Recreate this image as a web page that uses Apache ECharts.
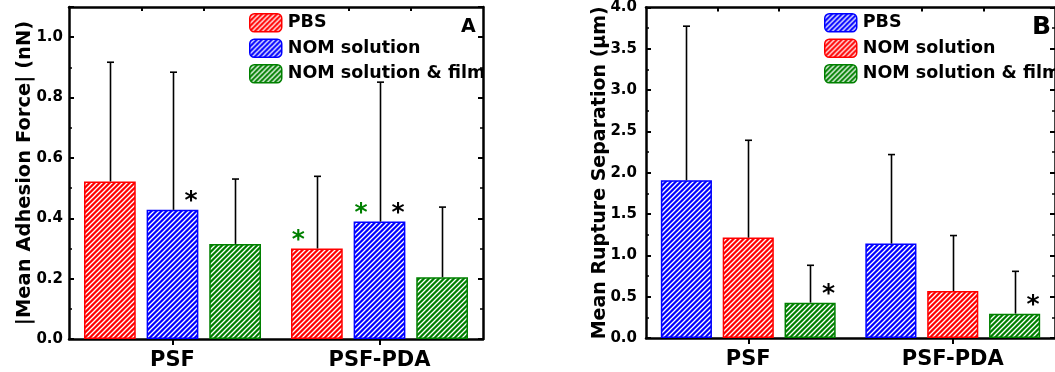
<!DOCTYPE html>
<html>
<head>
<meta charset="utf-8">
<script src="https://cdn.jsdelivr.net/npm/echarts@6/dist/echarts.min.js"></script>
<style>
  html, body { margin: 0; padding: 0; background: #fff; }
  #chart { width: 1055px; height: 372px; }
</style>
</head>
<body>
<div id="chart"></div>
<script>
// Categories shared by both panels
const categories = ['PSF', 'PSF-PDA'];
const groupNames = ['PBS', 'NOM solution', 'NOM solution & film'];

// Panel A: |mean adhesion force| (nN) and upper error
const adhPBS = [0.522, 0.300];
const adhNOM = [0.428, 0.389];
const adhFilm = [0.315, 0.205];
const adhPBSErr = [0.395, 0.239];
const adhNOMErr = [0.456, 0.462];
const adhFilmErr = [0.215, 0.232];

// Panel B: mean rupture separation (µm) and upper error
const rupPBS = [1.909, 1.143];
const rupNOM = [1.215, 0.569];
const rupFilm = [0.428, 0.295];
const rupPBSErr = [1.865, 1.077];
const rupNOMErr = [1.178, 0.671];
const rupFilmErr = [0.452, 0.512];

// Significance markers: [category index, bar index within the group]
const adhBlackStars = [[0, 1], [1, 1]];
const adhGreenStars = [[1, 0], [1, 1]];
const rupBlackStars = [[0, 2], [1, 2]];
const rupGreenStars = [];

// Small tick marks along the top frame
const topTicks = [0.85, 1.15, 1.85, 2.15];

const FONT = 'DejaVu Sans';
const RED = '#ff0000', BLUE = '#0000ff', GREEN = '#008000';

// Diagonal white hatch on a solid fill
function hatch(color) {
  const n = 5;
  const c = document.createElement('canvas');
  c.width = n; c.height = n;
  const g = c.getContext('2d');
  g.fillStyle = color;
  g.fillRect(0, 0, n, n);
  g.strokeStyle = '#ffffff';
  g.lineWidth = 1.3;
  g.beginPath();
  g.moveTo(-1, n + 1); g.lineTo(n + 1, -1);
  g.moveTo(-1, 1); g.lineTo(1, -1);
  g.moveTo(n - 1, n + 1); g.lineTo(n + 1, n - 1);
  g.stroke();
  return { image: c, repeat: 'repeat' };
}

const BAR_W = 0.25;   // fraction of category width
const BAR_GAP = 0.21; // fraction of bar width

function barOffset(api, slot) {
  const catW = api.size([1, 0])[0];
  const bw = catW * BAR_W;
  return (slot - 1) * bw * (1 + BAR_GAP);
}

function barSeries(name, values, color, gi) {
  return {
    type: 'bar', name, data: values,
    xAxisIndex: gi * 2, yAxisIndex: gi * 2,
    barWidth: (BAR_W * 100) + '%', barGap: (BAR_GAP * 100) + '%',
    itemStyle: { color: hatch(color), borderColor: color, borderWidth: 1.5 },
    emphasis: { disabled: true },
    z: 2
  };
}

function errorSeries(means, errs, gi) {
  const data = [];
  means.forEach((m, slot) => m.forEach((v, cat) => data.push([cat, v, errs[slot][cat], slot])));
  return {
    type: 'custom', xAxisIndex: gi * 2, yAxisIndex: gi * 2,
    encode: { x: 0, y: 1 }, data, z: 3, silent: true,
    renderItem(params, api) {
      const cat = api.value(0), v = api.value(1), e = api.value(2), slot = api.value(3);
      const base = api.coord([cat, v]);
      const top = api.coord([cat, v + e]);
      const x = Math.round(base[0] + barOffset(api, slot)) + 0.5;
      const style = { stroke: '#000', lineWidth: 1.6 };
      return {
        type: 'group', children: [
          { type: 'line', shape: { x1: x, y1: base[1], x2: x, y2: top[1] }, style },
          { type: 'line', shape: { x1: x - 3.5, y1: top[1], x2: x + 3.5, y2: top[1] }, style }
        ]
      };
    }
  };
}

function starSeries(marks, means, color, side, gi) {
  const data = marks.map(([cat, slot]) => [cat, means[slot][cat], slot]);
  return {
    type: 'custom', xAxisIndex: gi * 2, yAxisIndex: gi * 2,
    encode: { x: 0, y: 1 }, data, z: 4, silent: true,
    renderItem(params, api) {
      const cat = api.value(0), v = api.value(1), slot = api.value(2);
      const p = api.coord([cat, v]);
      return {
        type: 'text',
        style: {
          text: '*', x: p[0] + barOffset(api, slot) + side * 18.5, y: p[1] - 8,
          fill: color, font: 'bold 25px "' + FONT + '"',
          align: 'center', verticalAlign: 'middle'
        }
      };
    }
  };
}

function yAxes(gi, max, interval, name, nameGap) {
  const common = {
    type: 'value', gridIndex: gi, min: 0, max, interval,
    axisLine: { show: true, onZero: false, lineStyle: { color: '#000', width: 2.5 } },
    axisTick: { show: true, inside: true, length: 5, lineStyle: { color: '#000', width: 2 } },
    minorTick: { show: true, splitNumber: 2, length: 3, lineStyle: { color: '#000', width: 1.5 } },
    splitLine: { show: false }
  };
  return [
    Object.assign({}, common, {
      position: 'left',
      axisLabel: {
        formatter: v => v.toFixed(1), showMaxLabel: Math.abs(max / interval - Math.round(max / interval)) < 1e-9,
        color: '#000', fontFamily: FONT, fontWeight: 'bold', fontSize: 15, margin: gi === 0 ? 6 : 9
      },
      name, nameLocation: 'middle', nameGap, nameMoveOverlap: false,
      nameTextStyle: { color: '#000', fontFamily: FONT, fontWeight: 'bold', fontSize: gi === 0 ? 19.5 : 19 }
    }),
    Object.assign({}, common, { position: 'right', axisLabel: { show: false } })
  ];
}

function xAxes(gi) {
  return [
    {
      type: 'category', gridIndex: gi, data: categories, position: 'bottom',
      axisLine: { show: true, onZero: false, lineStyle: { color: '#000', width: 2.5 } },
      axisTick: { show: true, alignWithLabel: true, length: 6, lineStyle: { color: '#000', width: 2 } },
      axisLabel: { color: '#000', fontFamily: FONT, fontWeight: 'bold', fontSize: 21, margin: 11 }
    },
    {
      type: 'value', gridIndex: gi, position: 'top', min: 0.5, max: 2.5,
      axisLine: { show: true, onZero: false, lineStyle: { color: '#000', width: 2.5 } },
      axisTick: { show: true, inside: true, length: 4, customValues: topTicks, lineStyle: { color: '#000', width: 2 } },
      axisLabel: { show: false }, splitLine: { show: false }
    }
  ];
}

function legendFor(left, names, colors) {
  return {
    orient: 'vertical', left, top: 8, itemWidth: 32, itemHeight: 18, itemGap: 6,
    icon: 'roundRect', selectedMode: false,
    textStyle: { color: '#000', fontFamily: FONT, fontWeight: 'bold', fontSize: 17.5, padding: [0, 0, 0, 1] },
    data: names.map((n, i) => ({
      name: n,
      itemStyle: { color: hatch(colors[i]), borderColor: colors[i], borderWidth: 1.5 }
    }))
  };
}

const adhMeans = [adhPBS, adhNOM, adhFilm];
const adhErrs = [adhPBSErr, adhNOMErr, adhFilmErr];
const rupMeans = [rupPBS, rupNOM, rupFilm];
const rupErrs = [rupPBSErr, rupNOMErr, rupFilmErr];
const colorsA = [RED, BLUE, GREEN];
const colorsB = [BLUE, RED, GREEN];

const chart = echarts.init(document.getElementById('chart'), null, { renderer: 'canvas' });
chart.setOption({
  animation: false,
  backgroundColor: '#fff',
  grid: [
    { left: 69, top: 7, width: 414, height: 332 },
    { left: 646, top: 7, width: 411, height: 331 }
  ],
  xAxis: [...xAxes(0), ...xAxes(1)],
  yAxis: [
    ...yAxes(0, 1.1, 0.2, '|Mean Adhesion Force| (nN)', 34),
    ...yAxes(1, 4.0, 0.5, 'Mean Rupture Separation (\u03bcm)', 36)
  ],
  legend: [legendFor(244, groupNames, colorsA), legendFor(819, groupNames, colorsB)],
  title: [
    { text: 'A', left: 456, top: 13, textStyle: { color: '#000', fontFamily: FONT, fontWeight: 'bold', fontSize: 19 } },
    { text: 'B', left: 1027, top: 10, textStyle: { color: '#000', fontFamily: FONT, fontWeight: 'bold', fontSize: 25 } }
  ],
  graphic: [
    { type: 'rect', shape: { x: 485, y: 0, width: 50, height: 100 }, style: { fill: '#fff' }, z: 100 }
  ],
  series: [
    ...groupNames.map((n, i) => barSeries(n, adhMeans[i], colorsA[i], 0)),
    errorSeries(adhMeans, adhErrs, 0),
    starSeries(adhBlackStars, adhMeans, '#000', 1, 0),
    starSeries(adhGreenStars, adhMeans, GREEN, -1, 0),
    ...groupNames.map((n, i) => barSeries(n, rupMeans[i], colorsB[i], 1)),
    errorSeries(rupMeans, rupErrs, 1),
    starSeries(rupBlackStars, rupMeans, '#000', 1, 1),
    starSeries(rupGreenStars, rupMeans, GREEN, -1, 1)
  ]
});
</script>
</body>
</html>
